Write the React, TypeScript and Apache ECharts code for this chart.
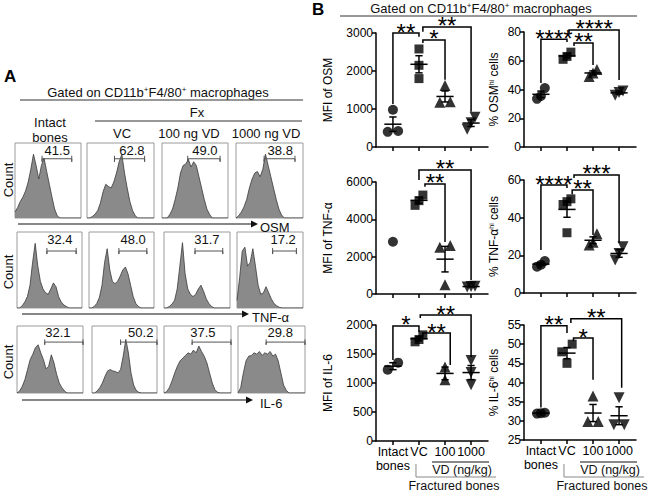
import { useEffect, useRef } from "react";
import * as echarts from "echarts";

const FONT = "'Liberation Sans', Arial, Helvetica, sans-serif";

// ---------------- Panel A : flow cytometry histograms ----------------
const histConditions = ["Intact bones", "VC", "100 ng VD", "1000 ng VD"];
const histMarkers = ["OSM", "TNF-α", "IL-6"];
const histBinStep = 4;

const histOSM = [
  [8, 14, 22, 28, 36, 48, 65, 85, 70, 52, 70, 80, 62, 45, 28, 12, 3, 0, 0, 0, 0, 0, 0, 0, 0, 0],
  [0, 0, 2, 5, 10, 20, 35, 45, 42, 40, 48, 60, 75, 85, 60, 40, 22, 10, 3, 0, 0, 0, 0, 0, 0, 0],
  [0, 0, 0, 5, 12, 25, 40, 60, 70, 72, 78, 68, 75, 70, 55, 40, 25, 12, 5, 0, 0, 0, 0, 0, 0, 0],
  [0, 3, 8, 15, 25, 40, 52, 60, 62, 55, 65, 85, 70, 55, 40, 25, 12, 4, 0, 0, 0, 0, 0, 0, 0, 0],
];
const histTNF = [
  [0, 0, 3, 8, 15, 30, 60, 85, 55, 35, 25, 20, 18, 25, 33, 28, 15, 8, 4, 2, 0, 0, 0, 0, 0, 0],
  [0, 0, 2, 6, 14, 30, 60, 78, 50, 35, 32, 35, 42, 50, 54, 45, 30, 15, 6, 2, 0, 0, 0, 0, 0, 0],
  [0, 0, 2, 5, 10, 25, 55, 86, 45, 25, 18, 15, 18, 25, 30, 22, 12, 6, 2, 0, 0, 0, 0, 0, 0, 0],
  [10, 40, 75, 80, 55, 60, 78, 55, 30, 18, 20, 28, 20, 12, 6, 3, 1, 0, 0, 0, 0, 0, 0, 0, 0, 0],
];
const histIL6 = [
  [0, 3, 10, 20, 35, 50, 58, 68, 72, 60, 50, 36, 40, 57, 45, 28, 15, 8, 3, 0, 0, 0, 0, 0, 0, 0],
  [0, 0, 3, 8, 15, 25, 33, 35, 33, 32, 30, 35, 55, 80, 60, 30, 12, 4, 1, 0, 0, 0, 0, 0, 0, 0],
  [0, 2, 8, 18, 30, 40, 48, 52, 56, 60, 58, 64, 60, 70, 62, 55, 45, 30, 15, 5, 1, 0, 0, 0, 0, 0],
  [0, 8, 30, 48, 55, 56, 60, 58, 62, 56, 60, 58, 62, 55, 58, 48, 30, 12, 4, 0, 0, 0, 0, 0, 0, 0],
];

const gatePctOSM = ["41.5", "62.8", "49.0", "38.8"];
const gatePctTNF = ["32.4", "48.0", "31.7", "17.2"];
const gatePctIL6 = ["32.1", "50.2", "37.5", "29.8"];
const gateFromOSM = [41, 41, 39, 42];
const gateToOSM = [86, 86, 88, 88];
const gateFromTNF = [46, 46, 47, 54];
const gateToTNF = [91, 89, 89, 90];
const gateFromIL6 = [42, 44, 42, 42];
const gateToIL6 = [100, 100, 100, 100];
const gateLabelAtOSM = [64, 67, 65, 66];
const gateLabelAtTNF = [66, 68, 65, 70];
const gateLabelAtIL6 = [62, 75, 58, 63];
const gateLevel = [79, 75, 76];

// ---------------- Panel B : MFI / % positive ----------------
const groupLabels = ["Intact\nbones", "VC", "100", "1000"];

const mfiOSM = [[980, 400, 420], [2580, 2150, 1800], [1620, 1180, 1190], [780, 640, 470]];
const pctOSM = [[41, 35.5, 33.5], [66, 63, 61], [54, 51.5, 49], [39, 38, 36]];
const mfiTNF = [[2800], [5300, 5000, 4750], [2600, 2500, 500], [420, 400, 380]];
const pctTNF = [[17, 15, 14], [50, 48.5, 47, 32], [31.5, 27, 25.5], [24.5, 21, 17.5]];
const mfiIL6 = [[1230, 1350], [1830, 1750, 1710], [1055, 1275], [1390, 1180, 970]];
const pctIL6 = [[32, 32.1, 31.9], [50, 48, 45], [36.5, 29.8, 29.8], [36, 29, 29]];

// significance brackets: [from group, to group, bracket level, left leg end, right leg end, stars]
const sigMfiOSM = [[1, 2, 3000, 1130, 2900, 2], [2.15, 4, 3160, 3030, 930, 2], [2.15, 3, 2816, 2740, 1770, 1]];
const sigPctOSM = [[1, 2, 75, 44.5, 73, 4], [2.08, 4, 81.4, 79.3, 46.6, 4], [2.27, 3, 72.4, 70.3, 57, 2]];
const sigMfiTNF = [[2.23, 3, 5893, 5750, 2787, 2], [2, 4, 6643, 6107, 750, 2]];
const sigPctTNF = [[1, 2, 57.3, 22.8, 55.7, 4], [2.27, 4, 62.7, 61, 26.5, 3], [2.2, 3, 54.7, 52.5, 30.8, 2]];
const sigMfiIL6 = [[1, 2, 1983, 1397, 1879, 1], [2.05, 4, 2172, 2121, 1448, 2], [2.15, 3.2, 1862, 1800, 1310, 2]];
const sigPctIL6 = [[1, 2, 54.8, 33.5, 52.9, 2], [2.15, 4.1, 56.6, 55.5, 38.6, 2], [2.25, 3, 51.6, 50.8, 40.7, 1]];

// ---------------- layout ----------------
const histRowsLayout = [
  { top: 143, height: 75, lefts: [15, 87, 162, 236], widths: [66, 67, 66, 67] },
  { top: 232, height: 76, lefts: [17, 89, 164, 237], widths: [65, 65, 66, 66] },
  { top: 326, height: 67, lefts: [17, 92, 164, 238], widths: [66, 65, 67, 67] },
];
const B_W = 112;
const X_MIN = 0.35;
const X_MAX = 4.65;

const bPanels = [
  { values: mfiOSM, sig: sigMfiOSM, min: 0, max: 3000, step: 1000, name: "MFI of OSM", left: 376, top: 33, height: 114, right: false, bottomRow: false },
  { values: pctOSM, sig: sigPctOSM, min: 0, max: 80, step: 20, name: "% OSM{h|hi} cells", left: 524, top: 32, height: 115, right: true, bottomRow: false },
  { values: mfiTNF, sig: sigMfiTNF, min: 0, max: 6000, step: 2000, name: "MFI of TNF-α", left: 376, top: 182, height: 112, right: false, bottomRow: false },
  { values: pctTNF, sig: sigPctTNF, min: 0, max: 60, step: 20, name: "% TNF-α{h|hi} cells", left: 524, top: 180, height: 113, right: true, bottomRow: false },
  { values: mfiIL6, sig: sigMfiIL6, min: 0, max: 2000, step: 500, name: "MFI of IL-6", left: 376, top: 325, height: 116, right: false, bottomRow: true },
  { values: pctIL6, sig: sigPctIL6, min: 25, max: 55, step: 5, name: "% IL-6{h|hi} cells", left: 524, top: 325, height: 115, right: true, bottomRow: true },
];

const SYMBOLS = ["circle", "rect", "triangle", "triangle"];
const SYMBOL_ROT = [0, 0, 0, 180];
const SYMBOL_SIZE = [10, 9, 11, 11];

function swarmOffsets(vals: number[], thr: number): number[] {
  const order = vals.map((_, i) => i).sort((a, b) => vals[a] - vals[b]);
  const offs = vals.map(() => 0);
  let cl: number[] = [];
  const flush = () => {
    const n = cl.length;
    if (n > 1) {
      const half = n === 2 ? 0.2 : 0.15;
      cl.forEach((k, j) => { offs[k] = -half + (2 * half * j) / (n - 1); });
    }
    cl = [];
  };
  order.forEach((k) => {
    if (cl.length && vals[k] - vals[cl[cl.length - 1]] >= thr) flush();
    cl.push(k);
  });
  flush();
  return offs;
}

function stats(vals: number[]) {
  const n = vals.length;
  const m = vals.reduce((a, b) => a + b, 0) / n;
  const sd = Math.sqrt(vals.reduce((a, b) => a + (b - m) * (b - m), 0) / (n - 1));
  return { m, sem: sd / Math.sqrt(n) };
}

function txt(text: string, x: number, y: number, size: number, extra: any = {}) {
  return {
    type: "text",
    x,
    y,
    silent: true,
    ...extra,
    style: {
      text,
      fontSize: size,
      fontFamily: FONT,
      fill: "#111",
      align: "center",
      verticalAlign: "middle",
      textAlign: "center",
      textVerticalAlign: "middle",
      ...(extra.style || {}),
    },
  };
}

function hline(x1: number, x2: number, y: number, color = "#333", w = 1) {
  return { type: "line", silent: true, shape: { x1, y1: y, x2, y2: y }, style: { stroke: color, lineWidth: w } };
}
function vline(x: number, y1: number, y2: number, color = "#333", w = 1) {
  return { type: "line", silent: true, shape: { x1: x, y1, x2: x, y2 }, style: { stroke: color, lineWidth: w } };
}

function textSeries(gi: number, x: number, y: number, text: string, size: number) {
  return {
    type: "custom",
    xAxisIndex: gi,
    yAxisIndex: gi,
    data: [[x, y]],
    silent: true,
    clip: false,
    z: 6,
    renderItem: (_p: any, api: any) => {
      const pt = api.coord([api.value(0), api.value(1)]);
      return {
        type: "text",
        x: pt[0],
        y: pt[1],
        style: {
          text,
          fontSize: size,
          fontFamily: FONT,
          fill: "#111",
          align: "center",
          verticalAlign: "middle",
          textAlign: "center",
          textVerticalAlign: "middle",
        },
      };
    },
  };
}

function buildOption() {
  const grid: any[] = [];
  const xAxis: any[] = [];
  const yAxis: any[] = [];
  const series: any[] = [];
  const graphic: any[] = [];

  // ---------- Panel A ----------
  const hists = [histOSM, histTNF, histIL6];
  const pcts = [gatePctOSM, gatePctTNF, gatePctIL6];
  const gFrom = [gateFromOSM, gateFromTNF, gateFromIL6];
  const gTo = [gateToOSM, gateToTNF, gateToIL6];
  const gLab = [gateLabelAtOSM, gateLabelAtTNF, gateLabelAtIL6];

  hists.forEach((rowData, r) => {
    const L = histRowsLayout[r];
    rowData.forEach((h, c) => {
      const gi = grid.length;
      grid.push({ left: L.lefts[c], top: L.top, width: L.widths[c], height: L.height, show: true, borderColor: "#9a9a9a", borderWidth: 1 });
      xAxis.push({ gridIndex: gi, type: "value", min: 0, max: 100, show: false });
      yAxis.push({ gridIndex: gi, type: "value", min: 0, max: 100, show: false });
      series.push({
        type: "line",
        xAxisIndex: gi,
        yAxisIndex: gi,
        data: h.map((v, i) => [i * histBinStep, v]),
        symbol: "none",
        silent: true,
        lineStyle: { color: "#3a3a3a", width: 0.8 },
        areaStyle: { color: "#8a8a8a", opacity: 1 },
        z: 2,
      });
      const a = gFrom[r][c];
      const b = gTo[r][c];
      const gy = gateLevel[r];
      series.push({
        type: "line",
        xAxisIndex: gi,
        yAxisIndex: gi,
        data: [[a, gy + 4], [a, gy - 4], [a, gy], [b, gy], [b, gy - 4], [b, gy + 4]],
        symbol: "none",
        silent: true,
        lineStyle: { color: "#555", width: 1 },
        z: 3,
      });
      series.push(textSeries(gi, gLab[r][c], 90, pcts[r][c], 13));
    });
  });

  // Panel A header
  graphic.push(txt("A", 4, 76, 17, { style: { fontWeight: "bold", align: "left", textAlign: "left", fill: "#000" } }));
  graphic.push({
    type: "text",
    x: 158,
    y: 92,
    silent: true,
    style: {
      text: "Gated on CD11b{s|+}F4/80{s|+} macrophages",
      fontSize: 13,
      fontFamily: FONT,
      fill: "#111",
      align: "center",
      verticalAlign: "middle",
      textAlign: "center",
      textVerticalAlign: "middle",
      rich: { s: { fontSize: 8, fontFamily: FONT, verticalAlign: "top", fill: "#111" } },
    },
  });
  graphic.push(hline(20, 303, 100));
  graphic.push(txt("Fx", 197, 112, 13));
  graphic.push(hline(95, 302, 121));
  graphic.push(txt("Intact", 50, 122, 13));
  graphic.push(txt("bones", 50, 137, 13));
  graphic.push(txt(histConditions[1], 122, 133, 13));
  graphic.push(txt(histConditions[2], 189, 133, 13));
  graphic.push(txt(histConditions[3], 266, 133, 13));

  const countY = [180, 272, 362];
  countY.forEach((y) => graphic.push(txt("Count", 8, y, 13, { rotation: Math.PI / 2 })));

  const arrows = [
    { y: 224, x1: 18, x2: 257, tx: 260 },
    { y: 314, x1: 22, x2: 248, tx: 252 },
    { y: 400, x1: 22, x2: 252, tx: 260 },
  ];
  arrows.forEach((a, i) => {
    graphic.push(hline(a.x1, a.x2 - 4, a.y, "#111", 1.2));
    graphic.push({ type: "polygon", silent: true, shape: { points: [[a.x2 - 6, a.y - 3.5], [a.x2 + 1, a.y], [a.x2 - 6, a.y + 3.5]] }, style: { fill: "#111" } });
    graphic.push(txt(histMarkers[i], a.tx, a.y + 3, 13, { style: { align: "left", textAlign: "left" } }));
  });

  // ---------- Panel B ----------
  graphic.push(txt("B", 312, 9, 17, { style: { fontWeight: "bold", align: "left", textAlign: "left", fill: "#000" } }));
  graphic.push({
    type: "text",
    x: 481,
    y: 8,
    silent: true,
    style: {
      text: "Gated on CD11b{s|+}F4/80{s|+} macrophages",
      fontSize: 13,
      fontFamily: FONT,
      fill: "#111",
      align: "center",
      verticalAlign: "middle",
      textAlign: "center",
      textVerticalAlign: "middle",
      rich: { s: { fontSize: 8, fontFamily: FONT, verticalAlign: "top", fill: "#111" } },
    },
  });
  graphic.push(hline(340, 637, 16));

  const axLine = { color: "#000", width: 1.5 };

  bPanels.forEach((P) => {
    const gi = grid.length;
    grid.push({ left: P.left, top: P.top, width: B_W, height: P.height });
    xAxis.push({
      gridIndex: gi,
      type: "value",
      min: X_MIN,
      max: X_MAX,
      splitLine: { show: false },
      axisLine: { show: true, onZero: false, lineStyle: axLine },
      axisTick: { show: true, customValues: [1, 2, 3, 4], length: 4, lineStyle: axLine },
      axisLabel: P.bottomRow
        ? {
            show: true,
            customValues: [1, 2, 3, 4],
            formatter: (v: number) => groupLabels[Math.round(v) - 1] || "",
            fontSize: 12.5,
            lineHeight: 14,
            color: "#000",
            fontFamily: FONT,
            margin: 4,
          }
        : { show: false },
    });
    yAxis.push({
      gridIndex: gi,
      type: "value",
      min: P.min,
      max: P.max,
      interval: P.step,
      splitLine: { show: false },
      axisLine: { show: true, lineStyle: axLine },
      axisTick: { show: true, length: 4, lineStyle: axLine },
      axisLabel: {
        fontSize: 12,
        color: "#000",
        fontFamily: FONT,
        margin: 3,
        formatter: (v: number) => String(v),
      },
      name: P.name,
      nameLocation: "middle",
      nameGap: P.right ? 24 : 42,
      nameRotate: 90,
      nameTextStyle: {
        fontSize: 12,
        fontFamily: FONT,
        color: "#000",
        rich: { h: { fontSize: 7, fontFamily: FONT, color: "#000", verticalAlign: "top" } },
      },
    });

    const thr = ((P.max - P.min) * 9) / P.height;
    const meanData: number[][] = [];
    P.values.forEach((vals, g) => {
      const offs = swarmOffsets(vals, thr);
      series.push({
        type: "scatter",
        xAxisIndex: gi,
        yAxisIndex: gi,
        data: vals.map((v, i) => [g + 1 + offs[i], v]),
        symbol: SYMBOLS[g],
        symbolRotate: SYMBOL_ROT[g],
        symbolSize: SYMBOL_SIZE[g],
        itemStyle: { color: "#000" },
        silent: true,
        z: 3,
      });
      if (vals.length > 1) {
        const s = stats(vals);
        meanData.push([g + 1, s.m, s.sem]);
      }
    });

    series.push({
      type: "custom",
      xAxisIndex: gi,
      yAxisIndex: gi,
      data: meanData,
      encode: { x: 0, y: 1 },
      silent: true,
      clip: false,
      z: 4,
      renderItem: (_p: any, api: any) => {
        const x = api.value(0);
        const m = api.value(1);
        const s = api.value(2);
        const c = api.coord([x, m]);
        const t = api.coord([x, m + s]);
        const b = api.coord([x, m - s]);
        const hw = api.size([0.33, 0])[0];
        const cw = api.size([0.14, 0])[0];
        const st = { stroke: "#000", lineWidth: 1.5 };
        return {
          type: "group",
          children: [
            { type: "line", shape: { x1: c[0] - hw, y1: c[1], x2: c[0] + hw, y2: c[1] }, style: st },
            { type: "line", shape: { x1: c[0], y1: t[1], x2: c[0], y2: b[1] }, style: st },
            { type: "line", shape: { x1: c[0] - cw, y1: t[1], x2: c[0] + cw, y2: t[1] }, style: st },
            { type: "line", shape: { x1: c[0] - cw, y1: b[1], x2: c[0] + cw, y2: b[1] }, style: st },
          ],
        };
      },
    });

    series.push({
      type: "custom",
      xAxisIndex: gi,
      yAxisIndex: gi,
      data: P.sig,
      encode: { x: [0, 1], y: [2, 3, 4] },
      silent: true,
      clip: false,
      z: 5,
      renderItem: (_p: any, api: any) => {
        const x1 = api.value(0);
        const x2 = api.value(1);
        const yt = api.value(2);
        const ya = api.value(3);
        const yb = api.value(4);
        const n = api.value(5);
        const A = api.coord([x1, ya]);
        const B = api.coord([x1, yt]);
        const C = api.coord([x2, yt]);
        const D = api.coord([x2, yb]);
        const stars = "*".repeat(Math.round(n));
        return {
          type: "group",
          children: [
            { type: "polyline", shape: { points: [A, B, C, D] }, style: { stroke: "#000", lineWidth: 1.5, fill: null } },
            {
              type: "text",
              x: (B[0] + C[0]) / 2,
              y: B[1] - 1,
              style: {
                text: stars,
                fontSize: 24,
                lineHeight: 10,
                fontFamily: FONT,
                fill: "#000",
                align: "center",
                verticalAlign: "middle",
                textAlign: "center",
                textVerticalAlign: "middle",
              },
            },
          ],
        };
      },
    });

    if (P.bottomRow) {
      const tick = (v: number) => P.left + ((v - X_MIN) / (X_MAX - X_MIN)) * B_W;
      graphic.push(hline(tick(3) - 13, tick(4) + 18, 462, "#111", 1));
      graphic.push(txt("VD (ng/kg)", (tick(3) + tick(4)) / 2 + 4, 470, 12.5));
      graphic.push(vline(tick(2) - 3, 464, 477, "#888", 1));
      graphic.push(hline(tick(2) - 3, tick(4) + 25, 477, "#888", 1));
      graphic.push(txt("Fractured bones", tick(2) + 35, 486, 12.5));
    }
  });

  return {
    animation: false,
    backgroundColor: "#fff",
    textStyle: { fontFamily: FONT },
    grid,
    xAxis,
    yAxis,
    series,
    graphic,
  };
}

export default function App() {
  const ref = useRef<HTMLDivElement>(null);
  useEffect(() => {
    if (!ref.current) return;
    const chart = echarts.init(ref.current, null, { renderer: "svg" });
    chart.setOption(buildOption() as any);
    return () => chart.dispose();
  }, []);
  return (
    <div
      ref={ref}
      style={{ position: "fixed", left: 0, top: 0, width: 650, height: 492, background: "#fff" }}
    />
  );
}
